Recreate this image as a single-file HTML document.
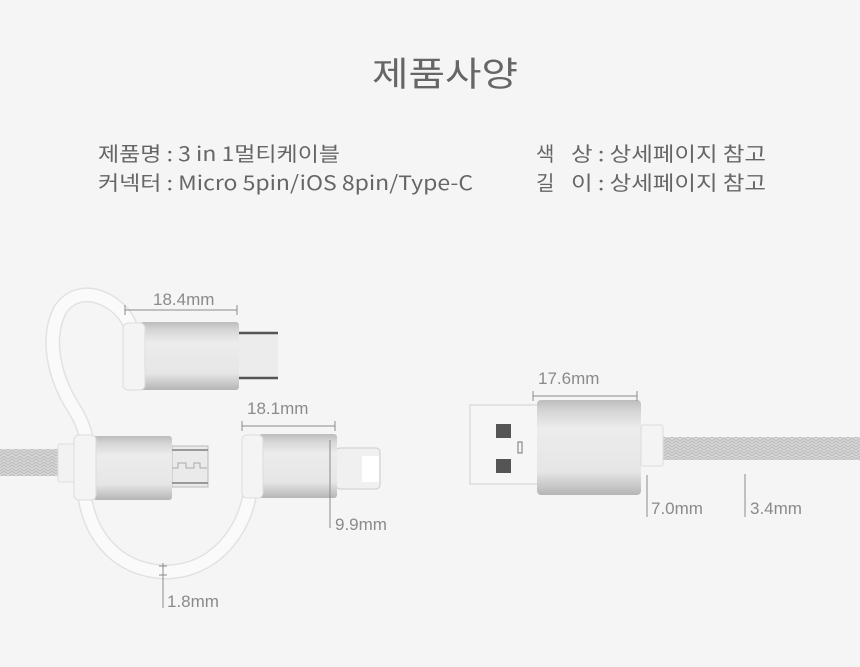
<!DOCTYPE html>
<html><head><meta charset="utf-8"><style>
html,body{margin:0;padding:0;background:#f5f5f5;}
svg{display:block;}
text{font-family:"Liberation Sans","Noto Sans CJK KR",sans-serif;}
.k{font-family:"Noto Sans CJK KR","Liberation Sans",sans-serif;fill:#666;}
.d{fill:#8a8a8a;font-size:17px;}
</style></head><body>
<svg width="860" height="667" viewBox="0 0 860 667" xmlns="http://www.w3.org/2000/svg">
<defs>
<linearGradient id="m" x1="0" y1="0" x2="0" y2="1">
<stop offset="0" stop-color="#bdbdbd"/><stop offset="0.12" stop-color="#d6d6d6"/><stop offset="0.3" stop-color="#ececec"/><stop offset="0.75" stop-color="#e6e6e6"/><stop offset="0.9" stop-color="#c9c9c9"/><stop offset="1" stop-color="#b5b5b5"/>
</linearGradient>
<pattern id="br" width="8" height="6" patternUnits="userSpaceOnUse">
<rect width="8" height="6" fill="#d8d8d8"/><path d="M0 3 L4 0 L8 3 M0 6 L4 3 L8 6" stroke="#bdbdbd" stroke-width="1.2" fill="none"/>
</pattern>
</defs>
<rect width="860" height="667" fill="#f5f5f5"/>
<text class="k" x="445" y="86" font-size="34" text-anchor="middle" fill="#666" textLength="146" lengthAdjust="spacingAndGlyphs">제품사양</text>
<text class="k" x="98" y="161" font-size="20" textLength="242" lengthAdjust="spacingAndGlyphs">제품명 : 3 in 1멀티케이블</text>
<text class="k" x="98" y="190" font-size="20" textLength="375" lengthAdjust="spacingAndGlyphs">커넥터 : Micro 5pin/iOS 8pin/Type-C</text>
<text class="k" x="536" y="161" font-size="20">색</text>
<text class="k" x="571" y="161" font-size="20" textLength="195" lengthAdjust="spacingAndGlyphs">상 : 상세페이지 참고</text>
<text class="k" x="536" y="190" font-size="20">길</text>
<text class="k" x="571" y="190" font-size="20" textLength="195" lengthAdjust="spacingAndGlyphs">이 : 상세페이지 참고</text>

<path d="M130 325 C120 300 80 280 60 310 C45 340 55 380 75 410 C82 422 85 430 86 438" stroke="#e2e2e2" stroke-width="15" fill="none"/>
<path d="M130 325 C120 300 80 280 60 310 C45 340 55 380 75 410 C82 422 85 430 86 438" stroke="#fafafa" stroke-width="12" fill="none"/>
<path d="M84 492 C90 540 120 570 165 572 C215 572 245 530 250 492" stroke="#e2e2e2" stroke-width="15" fill="none"/>
<path d="M84 492 C90 540 120 570 165 572 C215 572 245 530 250 492" stroke="#fafafa" stroke-width="12" fill="none"/>

<rect x="0" y="449" width="64" height="27" fill="url(#br)"/>
<rect x="58" y="444" width="18" height="38" rx="2" fill="#f2f2f2" stroke="#ddd"/>
<rect x="172" y="446" width="36" height="41" fill="#eaeaea" stroke="#bbb"/>
<line x1="172" y1="450" x2="208" y2="450" stroke="#999" stroke-width="2"/>
<line x1="172" y1="483" x2="208" y2="483" stroke="#999" stroke-width="2"/>
<path d="M172 468 H178 V463 H186 V468 H194 V463 H200 V468 H207" stroke="#aaa" fill="none"/>
<rect x="93" y="436" width="79" height="64" rx="3" fill="url(#m)"/>
<rect x="74" y="435" width="22" height="65" rx="5" fill="#f4f4f4" stroke="#ddd"/>

<rect x="238" y="333" width="40" height="45" fill="#ececec"/>
<line x1="238" y1="333" x2="278" y2="333" stroke="#555" stroke-width="2.5"/>
<line x1="238" y1="378" x2="278" y2="378" stroke="#555" stroke-width="2.5"/>
<rect x="140" y="322" width="99" height="68" rx="3" fill="url(#m)"/>
<rect x="123" y="323" width="22" height="67" rx="5" fill="#f4f4f4" stroke="#ddd"/>

<rect x="336" y="448" width="44" height="41" rx="4" fill="#f0f0f0" stroke="#ccc"/>
<rect x="362" y="456" width="17" height="26" fill="#fff"/>
<rect x="259" y="434" width="78" height="64" rx="3" fill="url(#m)"/>
<rect x="242" y="435" width="21" height="63" rx="5" fill="#f4f4f4" stroke="#ddd"/>

<rect x="470" y="405" width="70" height="79" fill="#f6f6f6" stroke="#d0d0d0"/>
<rect x="496" y="424" width="15" height="14" fill="#555"/>
<rect x="496" y="459" width="15" height="14" fill="#555"/>
<rect x="518" y="442" width="4" height="11" fill="none" stroke="#777" stroke-width="1"/>
<rect x="537" y="400" width="104" height="95" rx="4" fill="url(#m)"/>
<rect x="663" y="437" width="197" height="23" fill="url(#br)"/>
<rect x="641" y="425" width="22" height="41" rx="2" fill="#f4f4f4" stroke="#ddd"/>

<g stroke="#8a8a8a" stroke-width="1" fill="none">
<path d="M125 310 H237 M125 305 V315 M237 305 V315"/>
<path d="M242 426 H335 M242 421 V431 M335 421 V431"/>
<path d="M330 440 V528"/>
<path d="M533 396 H637 M533 391 V401 M637 391 V401"/>
<path d="M647 475 V517"/>
<path d="M745 474 V517"/>
<path d="M163 563 V608 M159 566 H167 M159 575 H167"/>
</g>
<text class="d" x="153" y="305">18.4mm</text>
<text class="d" x="247" y="414">18.1mm</text>
<text class="d" x="335" y="530">9.9mm</text>
<text class="d" x="538" y="384">17.6mm</text>
<text class="d" x="651" y="514">7.0mm</text>
<text class="d" x="750" y="514">3.4mm</text>
<text class="d" x="167" y="607">1.8mm</text>
</svg>
</body></html>
